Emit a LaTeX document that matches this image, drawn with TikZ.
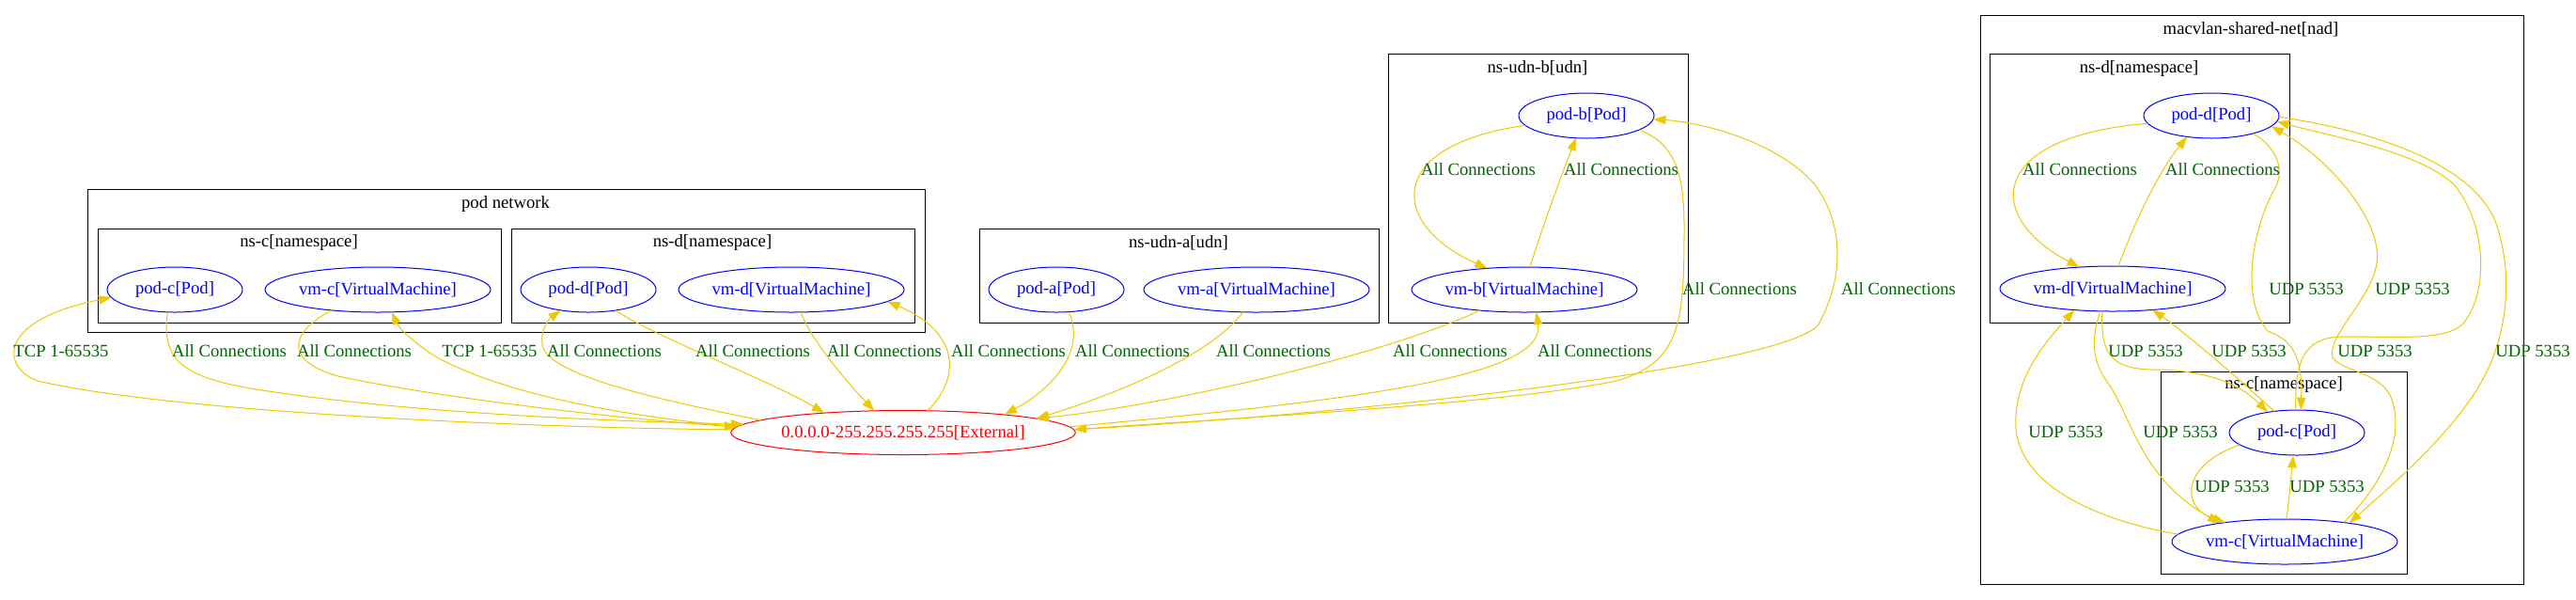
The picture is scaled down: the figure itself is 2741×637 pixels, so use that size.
\documentclass[tikz,border=0pt]{standalone}
\usepackage{fontspec}
\setmainfont{Liberation Serif}
\usetikzlibrary{shapes.geometric,arrows.meta}
\definecolor{edgegold}{RGB}{238,201,0}
\definecolor{lblgreen}{RGB}{0,100,0}
\begin{document}
\begin{tikzpicture}[x=0.75pt,y=-0.75pt]
\tikzset{
 every node/.style={font=\fontsize{14pt}{16pt}\selectfont},
 podn/.style={ellipse, draw=blue, text=blue, line width=0.75pt, minimum width=108pt, minimum height=36pt, inner sep=0pt, outer sep=0pt},
 vmn/.style={podn, minimum width=180pt},
 extn/.style={ellipse, draw=red, text=red, line width=0.75pt, minimum width=267pt, minimum height=35.25pt, inner sep=0pt, outer sep=0pt},
 clus/.style={draw=black, line width=0.75pt},
 clab/.style={text=black, inner sep=0pt},
 elab/.style={text=lblgreen, inner sep=0pt},
 conn/.style={draw=edgegold, line width=0.75pt, -{Triangle[length=10pt,width=7pt]}},
}
\useasboundingbox (0,0) rectangle (2741,637);
\fill[white] (0,0) rectangle (2741,637);

% clusters
\draw[clus] (93,201) rectangle (984,353);
\node[clab] (tpn) at (538,217) {pod network};
\draw[clus] (104,243) rectangle (533,343);
\node[clab] (tnsc1) at (318,258) {ns-c[namespace]};
\draw[clus] (544,243) rectangle (973,343);
\node[clab] (tnsd1) at (758,258) {ns-d[namespace]};
\draw[clus] (1042,243) rectangle (1467,343);
\node[clab] (tudna) at (1254,258) {ns-udn-a[udn]};
\draw[clus] (1477,57) rectangle (1796,343);
\node[clab] (tudnb) at (1636,72) {ns-udn-b[udn]};
\draw[clus] (2107,16) rectangle (2685,621);
\node[clab] (tmac) at (2395,31) {macvlan-shared-net[nad]};
\draw[clus] (2117,57) rectangle (2436,343);
\node[clab] (tnsd2) at (2276,73) {ns-d[namespace]};
\draw[clus] (2299,395) rectangle (2561,610);
\node[clab] (tnsc2) at (2430,409) {ns-c[namespace]};

% nodes
\node[podn] (podc1) at (186,308) {pod-c[Pod]};
\node[vmn] (vmc1) at (402,308) {vm-c[VirtualMachine]};
\node[podn] (podd1) at (626,308) {pod-d[Pod]};
\node[vmn] (vmd1) at (842,308) {vm-d[VirtualMachine]};
\node[extn] (ext) at (961,460) {0.0.0.0-255.255.255.255[External]};
\node[podn] (poda) at (1124,308) {pod-a[Pod]};
\node[vmn] (vma) at (1337,308) {vm-a[VirtualMachine]};
\node[podn] (podb) at (1688,123) {pod-b[Pod]};
\node[vmn] (vmb) at (1622,308) {vm-b[VirtualMachine]};
\node[podn] (podd2) at (2353,123) {pod-d[Pod]};
\node[vmn] (vmd2) at (2248,307) {vm-d[VirtualMachine]};
\node[podn] (podc2) at (2444,460) {pod-c[Pod]};
\node[vmn] (vmc2) at (2431,576) {vm-c[VirtualMachine]};

% pod network edges
\draw[conn] (ext.179) .. controls (560,455) and (180,438) .. (40,405) .. controls (0,390) and (-2,340) .. (podc1.-173);
\draw[conn] (podc1.-108) .. controls (172,380) and (190,400) .. (267,413) .. controls (400,435) and (600,447) .. (ext.177);
\draw[conn] (vmc1.-156) .. controls (305,355) and (305,385) .. (360,400) .. controls (450,420) and (650,445) .. (ext.178);
\draw[conn] (ext.178.5) .. controls (640,440) and (530,415) .. (465,380) .. controls (445,368) and (425,350) .. (vmc1.-58);
\draw[conn] (ext.175) .. controls (700,425) and (590,400) .. (578,370) .. controls (573,355) and (583,340) .. (podd1.-143);
\draw[conn] (podd1.-37) .. controls (690,355) and (820,405) .. (ext.166);
\draw[conn] (vmd1.-67) .. controls (862,360) and (900,405) .. (ext.143);
\draw[conn] (ext.42) .. controls (1020,405) and (1025,355) .. (vmd1.-7);
\node[elab] (l1) at (65,373) {TCP 1-65535};
\node[elab] (l2) at (244,373) {All Connections};
\node[elab] (l3) at (377,373) {All Connections};
\node[elab] (l4) at (521,373) {TCP 1-65535};
\node[elab] (l5) at (643,373) {All Connections};
\node[elab] (l6) at (801,373) {All Connections};
\node[elab] (l7) at (941,373) {All Connections};
\node[elab] (l8) at (1073,373) {All Connections};

% udn edges
\draw[conn] (poda.-61) .. controls (1155,370) and (1125,410) .. (ext.10);
\draw[conn] (vma.-121) .. controls (1290,375) and (1200,415) .. (ext.6);
\draw[conn] (vmb.-155) .. controls (1480,375) and (1250,430) .. (ext.6);
\draw[conn] (ext.2.5) .. controls (1450,425) and (1645,400) .. (vmb.-62);
\draw[conn] (podb.-15) .. controls (1780,152) and (1792,180) .. (1792,240) .. controls (1792,340) and (1790,385) .. (1720,405) .. controls (1600,430) and (1300,445) .. (ext.1.5);
\draw[conn] (ext.1.5) .. controls (1450,440) and (1900,390) .. (1935,345) .. controls (1960,300) and (1965,240) .. (1930,195) .. controls (1890,150) and (1810,130) .. (podb.-3);
\draw[conn] (podb.-171) .. controls (1470,155) and (1480,240) .. (vmb.150);
\draw[conn] (vmb.76) .. controls (1640,245) and (1660,190) .. (podb.-115);
\node[elab] (l9) at (1205,373) {All Connections};
\node[elab] (l10) at (1355,373) {All Connections};
\node[elab] (l11) at (1543,373) {All Connections};
\node[elab] (l12) at (1697,373) {All Connections};
\node[elab] (l13) at (1851,307) {All Connections};
\node[elab] (l14) at (2020,307) {All Connections};
\node[elab] (l15) at (1573,180) {All Connections};
\node[elab] (l16) at (1725,180) {All Connections};

% macvlan edges
\draw[conn] (podd2.-173) .. controls (2115,145) and (2110,230) .. (vmd2.147);
\draw[conn] (vmd2.76) .. controls (2270,240) and (2295,185) .. (podd2.-139);
\draw[conn] (podc2.-168) .. controls (2320,495) and (2320,540) .. (vmc2.162);
\draw[conn] (vmc2.86) .. controls (2436,530) and (2438,505) .. (podc2.-99);
\draw[conn] (vmc2.176) .. controls (2240,555) and (2150,520) .. (2145,455) .. controls (2142,400) and (2180,360) .. (vmd2.-151);
\draw[conn] (vmd2.-119) .. controls (2225,360) and (2225,385) .. (2245,410) .. controls (2270,450) and (2280,510) .. (vmc2.164);
\draw[conn] (vmd2.-115) .. controls (2235,375) and (2245,392) .. (2290,393) .. controls (2340,393) and (2380,405) .. (podc2.145);
\draw[conn] (podc2.137) .. controls (2380,400) and (2320,350) .. (vmd2.-28);
\draw[conn] (podd2.-23) .. controls (2420,155) and (2435,180) .. (2418,205) .. controls (2395,250) and (2385,320) .. (2413,352) .. controls (2440,362) and (2450,380) .. (podc2.80);
\draw[conn] (podc2.93) .. controls (2442,385) and (2450,360) .. (2490,358) .. controls (2560,358) and (2600,362) .. (2620,345) .. controls (2650,310) and (2645,235) .. (2610,195) .. controls (2570,160) and (2480,145) .. (podd2.-5);
\draw[conn] (vmc2.18) .. controls (2530,520) and (2560,470) .. (2545,425) .. controls (2535,395) and (2490,395) .. (2482,380) .. controls (2475,360) and (2520,320) .. (2528,285) .. controls (2540,240) and (2480,170) .. (podd2.-10);
\draw[conn] (podd2.-1) .. controls (2530,140) and (2630,175) .. (2655,235) .. controls (2675,290) and (2670,360) .. (2635,415) .. controls (2600,470) and (2540,520) .. (vmc2.16);
\node[elab] (m1) at (2213,180) {All Connections};
\node[elab] (m2) at (2365,180) {All Connections};
\node[elab] (m3) at (2454,307) {UDP 5353};
\node[elab] (m4) at (2567,307) {UDP 5353};
\node[elab] (m5) at (2283,373) {UDP 5353};
\node[elab] (m6) at (2393,373) {UDP 5353};
\node[elab] (m7) at (2527,373) {UDP 5353};
\node[elab] (m8) at (2695,373) {UDP 5353};
\node[elab] (m9) at (2198,459) {UDP 5353};
\node[elab] (m10) at (2320,459) {UDP 5353};
\node[elab] (m11) at (2375,517) {UDP 5353};
\node[elab] (m12) at (2476,517) {UDP 5353};
\end{tikzpicture}
\end{document}
